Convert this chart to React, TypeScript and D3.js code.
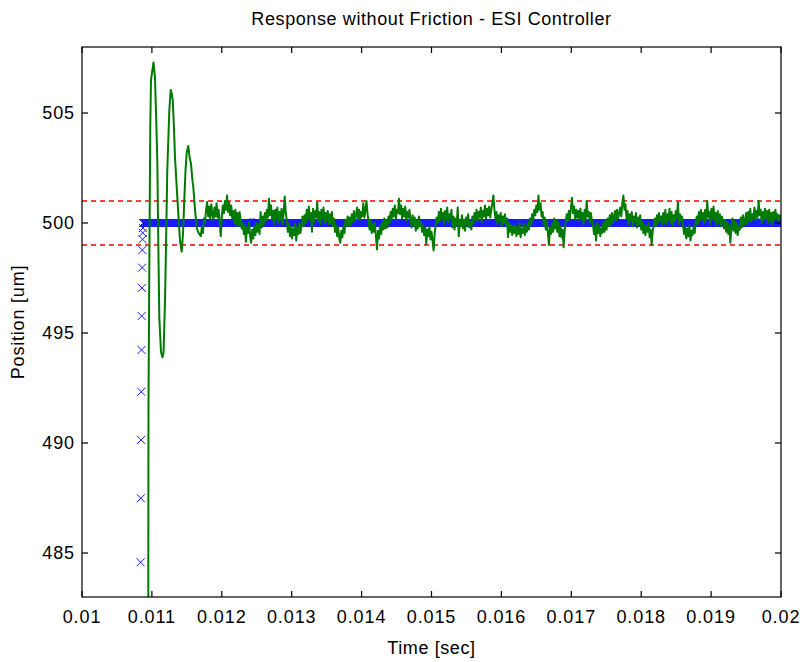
import React from "react";
import * as d3 from "d3";

// axis setup
const xTicks = [0.01, 0.011, 0.012, 0.013, 0.014, 0.015, 0.016, 0.017, 0.018, 0.019, 0.02];
const xTickLabels = ["0.01", "0.011", "0.012", "0.013", "0.014", "0.015", "0.016", "0.017", "0.018", "0.019", "0.02"];
const yTicks = [485, 490, 495, 500, 505];
const yTickLabels = ["485", "490", "495", "500", "505"];

// tolerance band (+-1 um)
const bandLimits = [499, 501];

// reference (blue x) - the step part
const refT = [0.010838, 0.010842, 0.010845, 0.010848, 0.010851, 0.010854, 0.010857, 0.01086, 0.010863, 0.010866, 0.010869, 0.010872];
const refV = [484.58, 487.49, 490.14, 492.33, 494.23, 495.77, 497.05, 497.97, 498.77, 499.26, 499.55, 499.77];
// reference held at setpoint after that
const refHoldStart = 0.010875;
const refHoldEnd = 0.02;
const refHoldStep = 0.000005;
const refSetpoint = 500;

// measured position (green) - transient
const greenTransT = [
  0.010944, 0.010951, 0.010963, 0.010977, 0.010987, 0.011023, 0.011044, 0.011059, 0.011077, 0.011092,
  0.011106, 0.01113, 0.011152, 0.011166, 0.011187, 0.011205, 0.01122, 0.011249, 0.011269, 0.011283,
  0.011298, 0.011316, 0.01133, 0.011363, 0.011402, 0.011426, 0.011445, 0.011459, 0.011481, 0.011498,
  0.011521, 0.011538, 0.011559, 0.011581, 0.011592, 0.011617, 0.011641, 0.01166, 0.011678,
];
const greenTransV = [
  470, 491.6, 498, 504.4, 506.5, 507.3, 506.6, 505, 502.9, 499,
  495.7, 494.15, 493.9, 494.1, 496.4, 499.5, 502.4, 505.1, 506.05, 505.9,
  505.6, 504.3, 503.0, 501.2, 499.2, 498.7, 499.5, 500.7, 502.4, 503.2,
  503.5, 503.0, 502.7, 501.9, 501.65, 500.6, 499.8, 499.6, 499.5,
];

// measured position (green) - steady noise, sampled every 15 us from 0.0117 s
const greenNoiseStart = 0.0117;
const greenNoiseStep = 0.000015;
const greenNoiseV = [
  499.4, 499.85, 499.55, 500.2, 500.05, 500.6, 500.95, 500.3, 500.75, 500.2, 500.85, 500.4, 500.15, 500.7, 500.3, 500.9, 500.25, 500.6, 500.05, 499.4,
  500.3, 500.8, 500.45, 501.0, 500.6, 501.25, 500.5, 500.95, 500.35, 500.8, 500.2, 500.55, 500.0, 500.6, 499.9, 500.45, 499.85, 500.5, 500.1, 499.75,
  500.0, 499.5, 499.9, 499.15, 499.8, 499.55, 500.05, 499.4, 499.1, 499.7, 499.3, 499.85, 499.45, 500.0, 499.6, 499.95, 499.5, 500.5, 499.8, 500.3,
  499.9, 500.45, 500.1, 500.6, 500.25, 501.1, 500.35, 500.8, 500.15, 500.55, 499.95, 500.6, 500.2, 500.7, 500.0, 500.5, 500.15, 500.65, 499.95, 500.45,
  501.2, 500.5, 500.1, 499.6, 500.0, 499.4, 499.85, 499.3, 499.75, 499.45, 499.95, 499.2, 499.8, 499.5, 500.0, 499.55, 499.9, 500.3, 499.85, 500.35,
  500.0, 500.6, 500.15, 500.75, 500.2, 500.45, 499.6, 500.65, 500.05, 500.55, 500.25, 500.95, 500.1, 500.5, 499.95, 500.6, 500.2, 500.7, 500.0, 500.45,
  500.1, 500.55, 499.95, 500.4, 500.0, 500.5, 499.85, 500.2, 499.6, 499.9, 499.4, 499.8, 499.3, 499.1, 499.65, 499.35, 499.85, 499.55, 500.15, 499.9,
  500.3, 499.85, 500.25, 499.9, 500.4, 500.05, 500.55, 500.1, 500.35, 500.7, 500.2, 500.6, 500.15, 500.5, 500.3, 500.9, 500.25, 500.6, 501.0, 500.4,
  500.1, 499.7, 500.15, 499.55, 499.95, 499.6, 500.0, 499.4, 498.8, 499.65, 499.3, 499.9, 499.5, 500.05, 499.7, 500.2, 499.75, 500.1, 499.8, 500.3,
  500.0, 500.5, 500.15, 500.65, 500.3, 500.8, 500.2, 500.6, 500.45, 501.1, 500.4, 500.8, 500.2, 500.65, 500.3, 500.75, 500.1, 500.5, 500.25, 500.6,
  500.15, 499.8, 500.35, 499.9, 500.25, 499.65, 500.1, 499.75, 500.3, 499.85, 500.05, 499.6, 499.9, 499.45, 499.8, 499.05, 499.7, 499.4, 499.85, 499.25,
  499.6, 499.2, 498.75, 499.5, 499.9, 500.25, 500.0, 500.5, 500.1, 500.65, 500.2, 500.45, 499.95, 500.55, 500.15, 500.7, 500.05, 500.4, 500.2, 500.6,
  499.8, 500.3, 499.7, 500.2, 499.9, 500.7, 499.4, 500.1, 499.85, 500.35, 499.75, 500.15, 499.65, 500.25, 499.95, 500.4, 499.8, 500.05, 499.7, 500.3,
  500.0, 500.45, 500.15, 500.6, 500.1, 500.5, 500.25, 500.7, 500.05, 500.55, 500.3, 500.8, 500.2, 500.65, 500.35, 500.75, 500.25, 500.6, 500.9, 501.25,
  500.6, 500.2, 500.5, 499.95, 500.35, 500.1, 500.45, 499.85, 500.3, 500.0, 500.4, 499.9, 500.2, 499.35, 500.05, 499.6, 499.9, 499.45, 499.85, 499.55,
  499.9, 499.4, 499.8, 499.5, 500.0, 499.35, 499.75, 499.55, 499.95, 499.45, 499.85, 499.6, 500.05, 499.7, 500.2, 499.9, 500.4, 500.15, 500.6, 500.35,
  500.8, 500.5, 501.25, 500.6, 500.9, 500.3, 500.5, 499.95, 500.25, 499.7, 500.1, 499.55, 499.0, 499.8, 499.5, 500.0, 499.6, 500.2, 499.75, 500.1,
  499.6, 500.05, 499.4, 499.85, 499.35, 499.7, 498.9, 499.65, 500.05, 500.4, 500.1, 500.55, 500.2, 500.7, 501.15, 500.45, 500.75, 500.15, 500.6, 500.25,
  500.55, 500.1, 500.65, 500.2, 500.45, 499.95, 500.6, 500.15, 501.0, 500.3, 500.5, 500.0, 500.45, 500.1, 499.95, 499.5, 499.85, 499.2, 500.0, 499.55,
  499.9, 499.4, 499.75, 499.55, 500.05, 499.6, 500.1, 499.7, 500.2, 499.85, 500.35, 499.9, 500.45, 500.0, 500.3, 500.55, 500.1, 500.6, 500.2, 500.45,
  500.7, 500.3, 500.9, 501.25, 500.6, 500.85, 500.2, 500.55, 499.95, 500.4, 500.1, 500.5, 499.85, 500.3, 500.05, 500.45, 499.8, 500.25, 499.95, 500.35,
  499.7, 500.05, 499.55, 499.9, 499.45, 499.85, 499.6, 500.0, 499.35, 499.7, 499.0, 499.65, 499.9, 500.2, 499.85, 500.35, 500.0, 500.45, 500.1, 500.3,
  499.9, 500.45, 500.05, 500.6, 499.95, 500.4, 500.15, 500.65, 500.0, 500.5, 499.85, 500.35, 500.1, 500.55, 500.2, 500.95, 499.95, 500.4, 500.1, 500.3,
  499.85, 499.5, 499.8, 499.3, 499.75, 499.4, 499.9, 499.2, 499.65, 499.45, 499.85, 499.55, 500.05, 500.3, 499.95, 500.5, 500.1, 500.6, 500.2, 500.45,
  500.0, 500.6, 500.15, 501.0, 500.25, 500.5, 499.95, 500.65, 500.2, 500.75, 500.1, 500.45, 499.9, 500.55, 500.05, 500.4, 499.85, 500.3, 500.0, 499.75,
  500.15, 499.6, 500.05, 499.5, 499.9, 499.1, 499.8, 500.2, 499.65, 500.1, 499.55, 500.0, 499.45, 499.85, 499.7, 500.25, 499.8, 500.35, 499.95, 500.1,
  500.45, 499.95, 500.5, 500.1, 500.65, 500.05, 500.4, 500.2, 500.7, 500.15, 500.55, 500.25, 501.0, 500.35, 500.6, 500.0, 500.5, 500.15, 500.65, 500.2,
  500.55, 500.0, 500.6, 500.1, 500.45, 499.95, 500.5, 500.15, 500.6, 500.2, 500.4, 500.1, 500.35, 500.2,
];

const W = 803;
const H = 662;
const M = { top: 47, right: 22, bottom: 65, left: 82 };
const FONT = "'Liberation Sans', Arial, sans-serif";

export default function App() {
  const x = d3.scaleLinear().domain([0.01, 0.02]).range([M.left, W - M.right]);
  const y = d3.scaleLinear().domain([483, 508]).range([H - M.bottom, M.top]);
  const [x0, x1] = x.range();
  const [yb, yt] = y.range();

  const greenPts: [number, number][] = greenTransT.map((t, i) => [t, greenTransV[i]]);
  greenNoiseV.forEach((v, i) => greenPts.push([greenNoiseStart + i * greenNoiseStep, v]));
  const line = d3.line<[number, number]>().x((d) => x(d[0])).y((d) => y(d[1]));

  // x marker path, half size 4px
  const s = 4;
  const xMark = (px: number, py: number) =>
    `M${px - s},${py - s}L${px + s},${py + s}M${px - s},${py + s}L${px + s},${py - s}`;
  const holdT = d3.range(refHoldStart, refHoldEnd + refHoldStep / 2, refHoldStep);
  const refPath =
    refT.map((t, i) => xMark(x(t), y(refV[i]))).join("") +
    holdT.map((t) => xMark(x(t), y(refSetpoint))).join("");

  const tick = 6;

  return (
    <svg width={W} height={H} style={{ position: "absolute", left: 0, top: 0, background: "#fff" }} fontFamily={FONT}>
      <defs>
        <clipPath id="plotClip">
          <rect x={x0} y={yt} width={x1 - x0} height={yb - yt} />
        </clipPath>
      </defs>
      <rect x={0} y={0} width={W} height={H} fill="#fff" />

      <g clipPath="url(#plotClip)">
        {bandLimits.map((v) => (
          <line key={v} x1={x0} x2={x1} y1={y(v)} y2={y(v)} stroke="#ff0000" strokeWidth={1.5} strokeDasharray="5,4" />
        ))}
        <path d={refPath} stroke="#1a1aff" strokeWidth={1} fill="none" />
        <path d={line(greenPts) || ""} stroke="#007a00" strokeWidth={2} fill="none" strokeLinejoin="round" />
      </g>

      {/* frame */}
      <rect x={x0} y={yt} width={x1 - x0} height={yb - yt} fill="none" stroke="#000" strokeWidth={1.2} />

      {/* x ticks */}
      {xTicks.map((t, i) => (
        <g key={"x" + i}>
          <line x1={x(t)} x2={x(t)} y1={yb} y2={yb - tick} stroke="#000" strokeWidth={1.2} />
          <line x1={x(t)} x2={x(t)} y1={yt} y2={yt + tick} stroke="#000" strokeWidth={1.2} />
          <text x={x(t)} y={yb + 26} textAnchor="middle" fontSize={18} letterSpacing={0.9} fill="#000">
            {xTickLabels[i]}
          </text>
        </g>
      ))}

      {/* y ticks */}
      {yTicks.map((v, i) => (
        <g key={"y" + i}>
          <line x1={x0} x2={x0 + tick} y1={y(v)} y2={y(v)} stroke="#000" strokeWidth={1.2} />
          <line x1={x1} x2={x1 - tick} y1={y(v)} y2={y(v)} stroke="#000" strokeWidth={1.2} />
          <text x={x0 - 7} y={y(v)} dy="0.35em" textAnchor="end" fontSize={18} letterSpacing={0.9} fill="#000">
            {yTickLabels[i]}
          </text>
        </g>
      ))}

      <text x={(x0 + x1) / 2} y={25} textAnchor="middle" fontSize={18} letterSpacing={0.6} fill="#000">
        Response without Friction - ESI Controller
      </text>
      <text x={(x0 + x1) / 2} y={654} textAnchor="middle" fontSize={18} letterSpacing={0.6} fill="#000">
        Time [sec]
      </text>
      <text transform={`translate(24,${(yt + yb) / 2}) rotate(-90)`} textAnchor="middle" fontSize={18} letterSpacing={0.8} fill="#000">
        Position [um]
      </text>
    </svg>
  );
}
